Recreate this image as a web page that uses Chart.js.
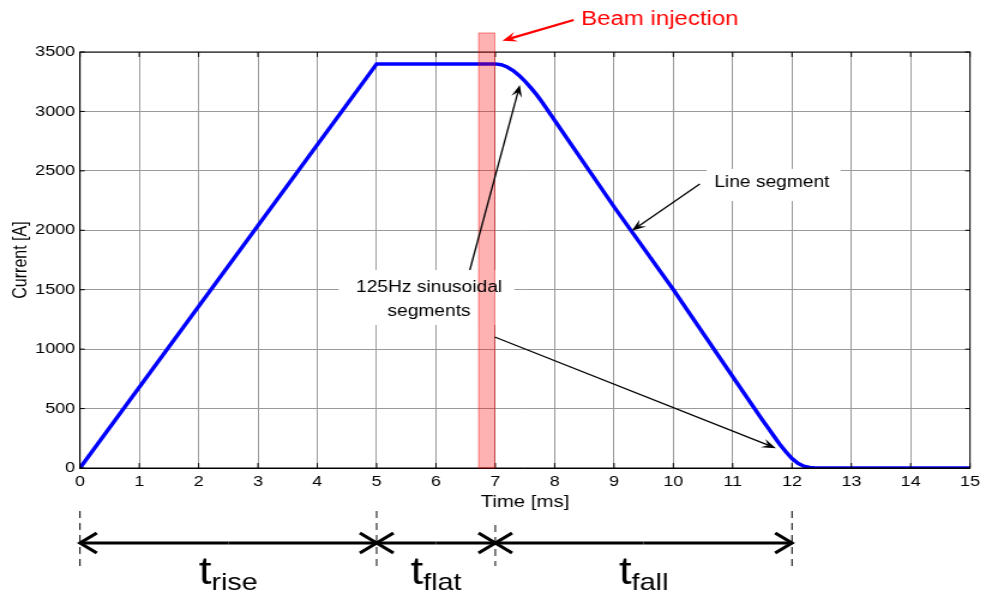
<!DOCTYPE html>
<html>
<head>
<meta charset="utf-8">
<script src="https://cdn.jsdelivr.net/npm/chart.js@4"></script>
<style>
html, body { margin: 0; padding: 0; background: #fff; overflow: hidden; }
/* the original figure is stretched sideways, so the canvas is drawn narrower and widened here */
#pulse { display: block; width: 986px !important; height: 593px !important; }
</style>
</head>
<body>
<canvas id="pulse" width="822" height="593"></canvas>
<script>
// magnet current pulse
var timeMs   = [0, 5, 6.9, 7.0, 7.1, 7.2, 7.3, 7.4, 7.5, 7.6, 7.7, 7.8, 8.0, 9.0, 10.0, 11.0, 11.5, 11.6, 11.7, 11.8, 11.9, 12.0, 12.1, 12.2, 12.3, 12.4, 15];
var currentA = [0, 3400, 3400, 3400, 3393, 3374, 3344, 3303, 3254, 3198, 3138, 3070, 2925, 2198, 1500, 768, 405, 335, 265, 195, 135, 80, 40, 15, 4, 0, 0];

var xTicks = [0, 1, 2, 3, 4, 5, 6, 7, 8, 9, 10, 11, 12, 13, 14, 15];
var yTicks = [0, 500, 1000, 1500, 2000, 2500, 3000, 3500];

// t_rise / t_flat / t_fall boundaries (ms)
var phaseBounds = [0, 5, 7, 12];
var phaseNames = ["rise", "flat", "fall"];
var injectionWindow = [6.72, 6.99];

var FONT = "'Liberation Sans', Arial, sans-serif";

function arrow(ctx, x0, y0, x1, y1, len, half, filled) {
    var a = Math.atan2(y1 - y0, x1 - x0);
    var c = Math.cos(a), s = Math.sin(a);
    var bx = x1 - c * len, by = y1 - s * len;
    ctx.beginPath();
    ctx.moveTo(x0, y0);
    if (filled) {
        ctx.lineTo(x1 - c * len * 0.6, y1 - s * len * 0.6);
    } else {
        ctx.lineTo(x1, y1);
    }
    ctx.stroke();
    ctx.beginPath();
    if (filled) {
        ctx.moveTo(x1, y1);
        ctx.lineTo(bx - s * half, by + c * half);
        ctx.lineTo(x1 - c * len * 0.6, y1 - s * len * 0.6);
        ctx.lineTo(bx + s * half, by - c * half);
        ctx.closePath();
        ctx.fill();
    } else {
        ctx.moveTo(bx - s * half, by + c * half);
        ctx.lineTo(x1, y1);
        ctx.lineTo(bx + s * half, by - c * half);
        ctx.stroke();
    }
}

var annotate = {
    id: "annotate",
    beforeDatasetsDraw: function(chart) {
        var ctx = chart.ctx, x = chart.scales.x, y = chart.scales.y;
        ctx.save();
        ctx.fillStyle = "#fff";
        // white backgrounds behind the two text labels
        [[10.56, 12.82, 2246, 2516], [4.36, 7.32, 1203, 1666]].forEach(function(b) {
            var l = x.getPixelForValue(b[0]), r = x.getPixelForValue(b[1]);
            var t = y.getPixelForValue(b[3]), btm = y.getPixelForValue(b[2]);
            ctx.fillRect(l, t, r - l, btm - t);
        });
        ctx.restore();
    },
    afterDraw: function(chart) {
        var ctx = chart.ctx, x = chart.scales.x, y = chart.scales.y;
        var area = chart.chartArea;
        ctx.save();

        // frame and inward ticks
        ctx.strokeStyle = "#000";
        ctx.lineWidth = 1;
        ctx.strokeRect(area.left, area.top, area.right - area.left, area.bottom - area.top);
        ctx.beginPath();
        xTicks.forEach(function(v) {
            var px = x.getPixelForValue(v);
            ctx.moveTo(px, area.bottom); ctx.lineTo(px, area.bottom - 5);
            ctx.moveTo(px, area.top); ctx.lineTo(px, area.top + 5);
        });
        yTicks.forEach(function(v) {
            var py = y.getPixelForValue(v);
            ctx.moveTo(area.left, py); ctx.lineTo(area.left + 4, py);
            ctx.moveTo(area.right, py); ctx.lineTo(area.right - 4, py);
        });
        ctx.stroke();

        // beam injection window
        var l = x.getPixelForValue(injectionWindow[0]), r = x.getPixelForValue(injectionWindow[1]);
        var top = y.getPixelForValue(3660);
        ctx.fillStyle = "rgba(255, 0, 0, 0.3)";
        ctx.fillRect(l, top, r - l, area.bottom - top);
        ctx.strokeStyle = "rgba(230, 0, 0, 0.45)";
        ctx.strokeRect(l, top, r - l, area.bottom - top);

        ctx.fillStyle = "#ff0000";
        ctx.strokeStyle = "#ff0000";
        ctx.lineWidth = 2.2;
        arrow(ctx, x.getPixelForValue(8.32), y.getPixelForValue(3769),
                   x.getPixelForValue(7.12), y.getPixelForValue(3595), 12, 5, true);
        ctx.font = "20px " + FONT;
        ctx.textBaseline = "alphabetic";
        ctx.textAlign = "left";
        ctx.fillText("Beam injection", x.getPixelForValue(8.447), y.getPixelForValue(3727));

        // black text arrows
        ctx.fillStyle = "#000";
        ctx.strokeStyle = "#000";
        ctx.lineWidth = 1.3;
        arrow(ctx, x.getPixelForValue(6.57), y.getPixelForValue(1666),
                   x.getPixelForValue(7.413), y.getPixelForValue(3222), 12, 4.5, true);
        arrow(ctx, x.getPixelForValue(6.99), y.getPixelForValue(1102),
                   x.getPixelForValue(11.73), y.getPixelForValue(166), 12, 4.5, true);
        arrow(ctx, x.getPixelForValue(10.446), y.getPixelForValue(2389),
                   x.getPixelForValue(9.30), y.getPixelForValue(1996), 12, 4.5, true);

        ctx.font = "16px " + FONT;
        ctx.fillText("Line segment", x.getPixelForValue(10.69), y.getPixelForValue(2364));
        ctx.textAlign = "center";
        ctx.fillText("125Hz sinusoidal", x.getPixelForValue(5.883), y.getPixelForValue(1481));
        ctx.fillText("segments", x.getPixelForValue(5.883), y.getPixelForValue(1279));

        // timing phases below the axis
        ctx.setLineDash([7, 5]);
        ctx.lineWidth = 1;
        ctx.beginPath();
        phaseBounds.forEach(function(v, i) {
            var px = x.getPixelForValue(v);
            var y0 = (i === 2) ? 525 : 511;
            ctx.moveTo(px, y0); ctx.lineTo(px, 566);
        });
        ctx.stroke();
        ctx.setLineDash([]);
        ctx.lineWidth = 3;
        for (var i = 0; i < phaseNames.length; i++) {
            var a = x.getPixelForValue(phaseBounds[i]), b = x.getPixelForValue(phaseBounds[i + 1]);
            arrow(ctx, (a + b) / 2, 543, b, 543, 14, 10, false);
            arrow(ctx, (a + b) / 2, 543, a, 543, 14, 10, false);
            ctx.font = "38px " + FONT;
            var wt = ctx.measureText("t").width;
            ctx.font = "24px " + FONT;
            var ws = ctx.measureText(phaseNames[i]).width;
            var sx = (a + b) / 2 - (wt + ws) / 2;
            ctx.textAlign = "left";
            ctx.font = "38px " + FONT;
            ctx.fillText("t", sx, 584);
            ctx.font = "24px " + FONT;
            ctx.fillText(phaseNames[i], sx + wt, 590);
        }
        ctx.restore();
    }
};

var ctx = document.getElementById("pulse").getContext("2d");
var pulseChart = new Chart(ctx, {
    type: "line",
    data: {
        datasets: [{
            data: timeMs.map(function(t, i) { return { x: t, y: currentA[i] }; }),
            borderColor: "#0000ff",
            borderWidth: 3.5,
            pointRadius: 0,
            tension: 0,
            fill: false,
        }],
    },
    options: {
        responsive: false,
        devicePixelRatio: 1,
        animation: false,
        layout: { padding: { top: 52, right: 9.5, left: 0, bottom: 0 } },
        plugins: { legend: { display: false }, tooltip: { enabled: false } },
        scales: {
            x: {
                type: "linear",
                min: xTicks[0],
                max: xTicks[xTicks.length - 1],
                afterBuildTicks: function(s) { s.ticks = xTicks.map(function(v) { return { value: v }; }); },
                afterFit: function(s) { s.height = 125; },
                ticks: { color: "#000", font: { family: FONT, size: 15 }, padding: 5, maxRotation: 0, autoSkip: false,
                         callback: function(v) { return String(v); } },
                grid: { color: "#9a9a9a", lineWidth: 1, drawTicks: false },
                border: { color: "#000" },
                title: { display: true, text: "Time [ms]", color: "#000", font: { family: FONT, size: 17 }, padding: { top: 0, bottom: 80 } },
            },
            y: {
                min: yTicks[0],
                max: yTicks[yTicks.length - 1],
                afterBuildTicks: function(s) { s.ticks = yTicks.map(function(v) { return { value: v }; }); },
                afterFit: function(s) { s.width = 66.67; },
                ticks: { color: "#000", font: { family: FONT, size: 15 }, padding: 4,
                         callback: function(v) { return String(v); } },
                grid: { color: "#9a9a9a", lineWidth: 1, drawTicks: false },
                border: { color: "#000" },
                title: { display: true, text: "Current [A]", color: "#000", font: { family: FONT, size: 16 }, padding: { top: 8, bottom: 0 } },
            },
        },
    },
    plugins: [annotate],
});
</script>
</body>
</html>
